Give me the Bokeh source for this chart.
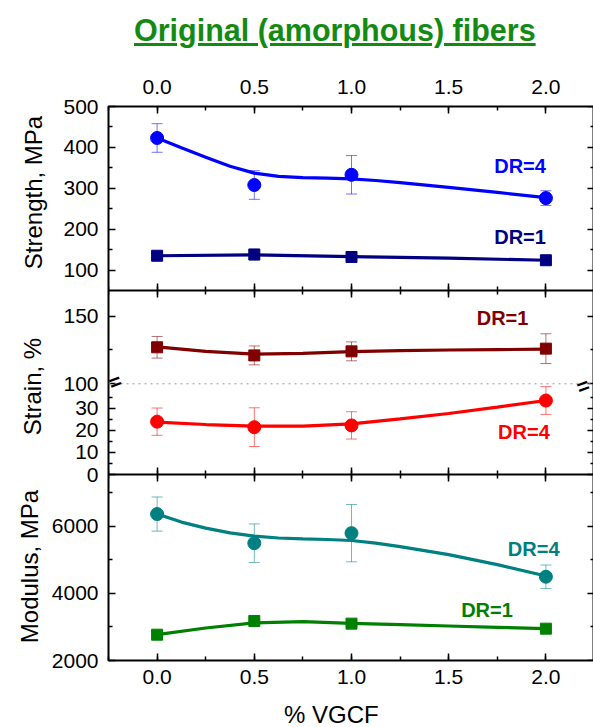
import math

from bokeh.plotting import figure
from bokeh.layouts import column, row
from bokeh.models import (Range1d, LinearAxis, SingleIntervalTicker, FixedTicker,
                          PrintfTickFormatter, ColumnDataSource, Whisker, TeeHead,
                          Span, Label, Div)
from bokeh.core.properties import value
from bokeh.embed import file_html
from bokeh.resources import INLINE

FONT = "Liberation Sans"

# ---- measured data -------------------------------------------------------
vgcf = [0.0, 0.5, 1.0, 2.0]

strength_dr4 = [423, 308, 333, 276]
strength_dr4_err = [35, 35, 47, 18]
strength_dr1 = [135, 138, 132, 124]
strength_dr1_err = [8, 13, 6, 5]

strain_dr1 = [127, 121, 124, 126]
strain_dr1_err = [8, 7, 7, 11]
strain_dr4 = [24.0, 21.5, 22.3, 33.6]
strain_dr4_err = [6.2, 8.8, 6.2, 6.3]

modulus_dr4 = [6370, 5500, 5800, 4500]
modulus_dr4_err = [510, 575, 855, 350]
modulus_dr1 = [2770, 3180, 3100, 2950]
modulus_dr1_err = [40, 40, 40, 40]

# ---- smooth trend curves --------------------------------------------------
fit_x = [0.0, 0.125, 0.25, 0.375, 0.5, 0.625, 0.75, 0.875, 1.0, 1.125, 1.25, 1.5, 1.75, 2.0]
strength_dr4_fit = [423, 399, 376, 354, 337, 329, 326, 325, 323, 319, 314, 302, 290, 277]
modulus_dr4_fit = [6372, 6130, 5950, 5810, 5710, 5655, 5630, 5610, 5580, 5500, 5400, 5160, 4860, 4520]

fit_x2 = [0.0, 0.25, 0.5, 0.75, 1.0, 1.25, 1.5, 1.75, 2.0]
strain_dr4_fit = [23.8, 22.7, 22.0, 22.0, 23.0, 25.3, 27.7, 30.6, 33.6]
strain_dr1_fit = [127.3, 124.0, 122.0, 122.5, 123.8, 124.5, 125.0, 125.3, 125.6]
modulus_dr1_fit = [2770, 2970, 3120, 3160, 3110, 3070, 3030, 2990, 2950]

fit_x3 = [0.0, 0.5, 1.0, 1.5, 2.0]
strength_dr1_fit = [135, 137, 133, 129, 124]

# ---- axis ticks per panel ------------------------------------------------
strength_ticks = [100, 200, 300, 400, 500]
strength_minor = [150, 250, 350, 450]
strain_hi_ticks = [100, 150]
strain_hi_minor = [125]
strain_lo_ticks = [0, 10, 20, 30]
strain_lo_minor = [5, 15, 25, 35]
modulus_ticks = [2000, 4000, 6000]
modulus_minor = [3000, 5000, 7000]

side_titles = ["Strength, MPa", "Strain, %", "Modulus, MPa"]
x_title = "% VGCF"

# ---- colours -------------------------------------------------------------
BLUE, NAVY = "#0000ff", "#000080"
DARKRED, RED = "#800000", "#ff0000"
TEAL, GREEN = "#008080", "#008000"

# ---- page geometry ---------------------------------------------------------
PAGE_W, PAGE_H = 593, 727
TITLE_H = 58
SIDE_W = 48
FRAME_W, FRAME_H = 486, 554
BORDER_L, BORDER_T, BORDER_B = 59, 48, 36
PLOT_H = BORDER_T + FRAME_H + BORDER_B
FOOT_H = PAGE_H - TITLE_H - PLOT_H
X0, X1 = -0.25, 2.25

# panel value spans and their pixel slices (measured up from the frame bottom)
PANELS = {
    "modulus": ((2000, 7550), (0, 186)),
    "strain_lo": ((0, 41.2), (186, 276.7)),
    "strain_hi": ((100, 169.0), (276.7, 370)),
    "strength": ((50, 500), (370, 554)),
}


def to_px(name, v):
    (v0, v1), (p0, p1) = PANELS[name]
    return round(p0 + (v - v0) / (v1 - v0) * (p1 - p0), 3)


def panel_range(name):
    (v0, v1), (p0, p1) = PANELS[name]
    scale = (v1 - v0) / (p1 - p0)
    return Range1d(v0 - p0 * scale, v1 + (FRAME_H - p1) * scale)


# ---- main plot -------------------------------------------------------------
p = figure(frame_width=FRAME_W, frame_height=FRAME_H,
           x_range=Range1d(X0, X1), y_range=Range1d(0, FRAME_H),
           x_axis_location=None, y_axis_location=None,
           output_backend="svg", toolbar_location=None,
           min_border_left=BORDER_L, min_border_right=0,
           min_border_top=BORDER_T, min_border_bottom=BORDER_B)
p.extra_y_ranges = {name: panel_range(name) for name in PANELS}
p.xgrid.visible = False
p.ygrid.visible = False
p.outline_line_color = "black"
p.outline_line_width = 2
p.background_fill_color = "white"
p.border_fill_color = "white"


def style_axis(ax, labels=True):
    ax.major_tick_in = 7
    ax.major_tick_out = 0
    ax.minor_tick_in = 4
    ax.minor_tick_out = 0
    ax.axis_line_color = None
    ax.major_tick_line_width = 1.5
    ax.minor_tick_line_width = 1.5
    ax.major_tick_line_color = "black"
    ax.minor_tick_line_color = "black"
    ax.major_label_text_font = FONT
    ax.major_label_text_font_size = "21px"
    ax.major_label_text_color = "black" if labels else None
    ax.major_label_standoff = 10


def x_ticker():
    return SingleIntervalTicker(interval=0.5, num_minor_ticks=2)


# x axes: labelled top and bottom, tick-only separators between panels
top = LinearAxis(ticker=x_ticker(), formatter=PrintfTickFormatter(format="%.1f"))
style_axis(top)
top.major_label_standoff = 13
p.add_layout(top, "above")

bottom = LinearAxis(ticker=x_ticker(), formatter=PrintfTickFormatter(format="%.1f"))
style_axis(bottom)
bottom.major_label_standoff = 9
p.add_layout(bottom, "below")

for name, loc in (("strength", 50), ("strain_lo", 0)):
    sep = LinearAxis(ticker=x_ticker(), y_range_name=name, fixed_location=loc)
    style_axis(sep, False)
    sep.major_tick_out = 7
    sep.minor_tick_out = 4
    sep.axis_line_color = "black"
    sep.axis_line_width = 2
    p.add_layout(sep, "below")

# y axis: every panel's ticks on one frame-pixel axis
groups = [("strength", strength_ticks, strength_minor),
          ("strain_hi", strain_hi_ticks, strain_hi_minor),
          ("strain_lo", strain_lo_ticks, strain_lo_minor),
          ("modulus", modulus_ticks, modulus_minor)]
major_px, minor_px, overrides = [], [], {}
for name, majors, minors in groups:
    for v in majors:
        pos = to_px(name, v)
        major_px.append(pos)
        overrides[pos] = str(v)
    minor_px.extend(to_px(name, v) for v in minors)
y_ticker = FixedTicker(ticks=major_px, minor_ticks=minor_px)

left = LinearAxis(ticker=y_ticker, major_label_overrides=overrides)
style_axis(left)
p.add_layout(left, "left")
right = LinearAxis(ticker=y_ticker, fixed_location=X1)
style_axis(right, False)
p.add_layout(right, "right")

# axis break on the strain panel
p.add_layout(Span(location=100, dimension="width", line_color="#999999", line_width=1,
                  line_dash="dotted", y_range_name="strain_hi"))
for bx, align in ((X0 + 0.004, "left"), (X1 - 0.03, "right")):
    p.add_layout(Label(x=bx, y=100, text="=", angle=0.35, text_align=align,
                       text_baseline="middle", text_font=FONT, text_font_size="21px",
                       text_font_style="bold", text_color="black", y_range_name="strain_hi"))


def add_series(xs, ys, errs, fx, fy, color, marker, size, name):
    src = ColumnDataSource(dict(x=xs, y=ys,
                                upper=[v + e for v, e in zip(ys, errs)],
                                lower=[v - e for v, e in zip(ys, errs)]))
    head = dict(size=11, line_color=color, line_alpha=0.55, line_width=1)
    p.add_layout(Whisker(base="x", upper="upper", lower="lower", source=src,
                         dimension="height", line_color=color, line_alpha=0.55,
                         line_width=1, upper_head=TeeHead(**head),
                         lower_head=TeeHead(**head), y_range_name=name))
    p.line(fx, fy, line_color=color, line_width=3.2, y_range_name=name)
    p.scatter("x", "y", source=src, marker=marker, size=size, fill_color=color,
              line_color=color, y_range_name=name)


def add_text(x, y, text, color, name):
    p.add_layout(Label(x=x, y=y, text=text, text_align="right", text_baseline="middle",
                       text_font=FONT, text_font_size="20px", text_font_style="bold",
                       text_color=color, y_range_name=name))


add_series(vgcf, strength_dr1, strength_dr1_err, fit_x3, strength_dr1_fit, NAVY, "square", 11, "strength")
add_series(vgcf, strength_dr4, strength_dr4_err, fit_x, strength_dr4_fit, BLUE, "circle", 13, "strength")
add_text(2.0, 354, "DR=4", BLUE, "strength")
add_text(2.0, 181, "DR=1", NAVY, "strength")

add_series(vgcf, strain_dr1, strain_dr1_err, fit_x2, strain_dr1_fit, DARKRED, "square", 11, "strain_hi")
add_series(vgcf, strain_dr4, strain_dr4_err, fit_x2, strain_dr4_fit, RED, "circle", 13, "strain_lo")
add_text(1.91, 148.3, "DR=1", DARKRED, "strain_hi")
add_text(2.02, 19.3, "DR=4", RED, "strain_lo")

add_series(vgcf, modulus_dr1, modulus_dr1_err, fit_x2, modulus_dr1_fit, GREEN, "square", 11, "modulus")
add_series(vgcf, modulus_dr4, modulus_dr4_err, fit_x, modulus_dr4_fit, TEAL, "circle", 13, "modulus")
add_text(2.07, 5331, "DR=4", TEAL, "modulus")
add_text(1.83, 3500, "DR=1", GREEN, "modulus")

# ---- y-axis titles in a strip left of the plot (same frame rows) ----------
side = figure(frame_width=SIDE_W, frame_height=FRAME_H,
              x_range=Range1d(0, SIDE_W), y_range=Range1d(0, FRAME_H),
              x_axis_location=None, y_axis_location=None,
              output_backend="svg", toolbar_location=None,
              min_border_left=0, min_border_right=0,
              min_border_top=BORDER_T, min_border_bottom=BORDER_B)
side.xgrid.visible = False
side.ygrid.visible = False
side.outline_line_color = None
side.background_fill_color = "white"
side.border_fill_color = "white"
# baseline column and vertical centre (pixels up from the frame bottom) of each title
side_x = [33, 32, 29]
side_y = [468, 274, 94]
side.text(x=side_x, y=side_y, text=side_titles, angle=math.pi / 2,
          text_align="center", text_baseline="alphabetic",
          text_font=value(FONT), text_font_size="24px", text_color="black")

# ---- page title and x-axis title -------------------------------------------
title = Div(text=('<div style="font-family:\'Liberation Sans\';font-size:30.5px;'
                  'font-weight:bold;color:#138b13;text-decoration:underline;'
                  'line-height:34px;padding-top:13px;padding-left:134px;'
                  'white-space:nowrap;">Original (amorphous) fibers</div>'),
            width=PAGE_W, height=TITLE_H, margin=0)

foot = Div(text=('<div style="font-family:\'Liberation Sans\';font-size:24px;'
                 'color:black;line-height:24px;padding-top:7px;padding-left:284px;'
                 'white-space:nowrap;">' + x_title + '</div>'),
           width=PAGE_W, height=FOOT_H, margin=0)

layout = column(title, row(side, p, spacing=0), foot, spacing=0)

open("out.html", "w").write(file_html(layout, INLINE))
